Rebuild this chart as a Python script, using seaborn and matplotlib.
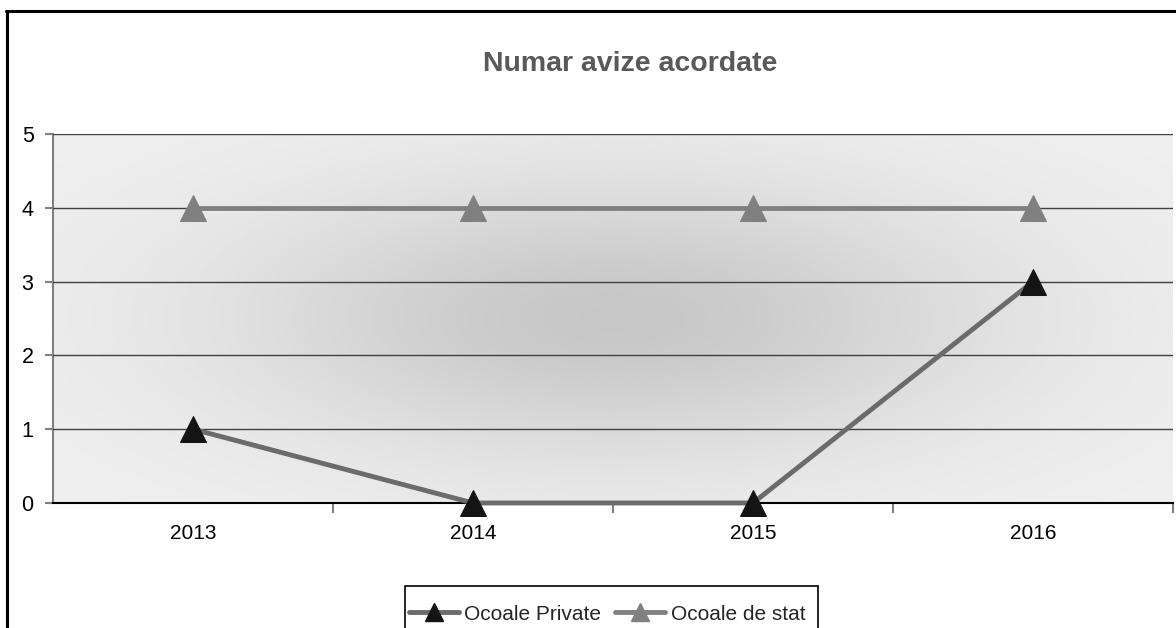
import numpy as np
import pandas as pd
import matplotlib
matplotlib.use("Agg")
import matplotlib.pyplot as plt
from matplotlib.lines import Line2D
from matplotlib.patches import Rectangle
import seaborn as sns

years = ["2013", "2014", "2015", "2016"]
private = [1, 0, 0, 3]
stat = [4, 4, 4, 4]
series_names = ["Ocoale Private", "Ocoale de stat"]
title = "Numar avize acordate"

sns.set_theme(style="white")
plt.rcParams["font.family"] = ["Liberation Sans", "DejaVu Sans"]

W, H = 1176, 628
fig = plt.figure(figsize=(W / 100, H / 100), dpi=100)
ax = fig.add_axes([53 / W, 1 - 503 / H, (1173 - 53) / W, (503 - 134) / H])

# background radial gradient
gx, gy = np.meshgrid(np.linspace(-1, 1, 400), np.linspace(-1, 1, 200))
r2 = (gx / 0.85) ** 2 + (gy / 0.95) ** 2
light, dark = 0.94, 0.78
val = light - (light - dark) * np.exp(-r2 / (2 * 0.33))
ax.imshow(val, extent=(-0.5, 3.5, 0, 5), aspect="auto", cmap="gray",
          vmin=0, vmax=1, zorder=0, interpolation="bilinear")

df = pd.DataFrame({
    "year": years * 2,
    "value": private + stat,
    "series": [series_names[0]] * 4 + [series_names[1]] * 4,
})
df["x"] = df["year"].map({y: i for i, y in enumerate(years)})

line_colors = {series_names[0]: "#6b6b6b", series_names[1]: "#808080"}
marker_colors = {series_names[0]: "#141414", series_names[1]: "#808080"}

for name in series_names:
    sub = df[df["series"] == name]
    sns.lineplot(data=sub, x="x", y="value", ax=ax, color=line_colors[name],
                 linewidth=3.5, marker="^", markersize=19,
                 markerfacecolor=marker_colors[name],
                 markeredgecolor=marker_colors[name], zorder=5, legend=False,
                 clip_on=False)

ax.set_xlim(-0.5, 3.5)
ax.set_ylim(0, 5)
ax.set_xlabel("")
ax.set_ylabel("")

ax.set_yticks(range(0, 6))
ax.set_yticklabels([str(v) for v in range(0, 6)], fontsize=15.5, color="black")
ax.yaxis.grid(True, color="#404040", linewidth=1)
ax.set_axisbelow(False)
for gl in ax.get_ygridlines():
    gl.set_zorder(1)

ax.set_xticks([0.5, 1.5, 2.5, 3.5])
ax.set_xticklabels([])
ax.set_xticks(range(len(years)), minor=True)
ax.set_xticklabels(years, minor=True, fontsize=15, color="black")
ax.tick_params(axis="x", which="minor", length=0, pad=15)
ax.tick_params(axis="x", which="major", length=7, width=1.5, color="#808080", direction="out")
ax.tick_params(axis="y", length=6, width=1.5, color="#808080", direction="out", pad=8)
ax.tick_params(bottom=True, left=True, which="major")

for s in ["top", "right"]:
    ax.spines[s].set_visible(False)
ax.spines["left"].set_color("#808080")
ax.spines["left"].set_linewidth(1.5)
ax.spines["bottom"].set_color("black")
ax.spines["bottom"].set_linewidth(1.5)
ax.spines["bottom"].set_zorder(4)

fig.text(630 / W, 1 - 64 / H, title, ha="center", va="center",
         fontsize=20.5, fontweight="bold", color="#595959")

handles = [
    Line2D([], [], color=line_colors[n], linewidth=3.5, marker="^", markersize=13,
           markerfacecolor=marker_colors[n], markeredgecolor=marker_colors[n])
    for n in series_names
]
leg = fig.legend(handles, series_names, loc="center",
                 bbox_to_anchor=(607 / W, 1 - 614 / H), ncol=2, fontsize=15,
                 frameon=False, handlelength=2.4, handletextpad=0.25,
                 columnspacing=0.7, borderpad=0, borderaxespad=0)

# legend frame (extends below the visible figure, as in the original)
fig.add_artist(Rectangle((405 / W, -20 / H), (818 - 405) / W, (628 - 586 + 20) / H,
                         transform=fig.transFigure, facecolor="none",
                         edgecolor="black", linewidth=1.2))

# outer chart border (top and left visible)
fig.add_artist(Line2D([6 / W, 1.0], [1 - 10.5 / H, 1 - 10.5 / H],
                      transform=fig.transFigure, color="black", linewidth=2.2))
fig.add_artist(Line2D([6.5 / W, 6.5 / W], [0, 1 - 10.5 / H],
                      transform=fig.transFigure, color="black", linewidth=2.2))

fig.savefig("out.png", dpi=100)
